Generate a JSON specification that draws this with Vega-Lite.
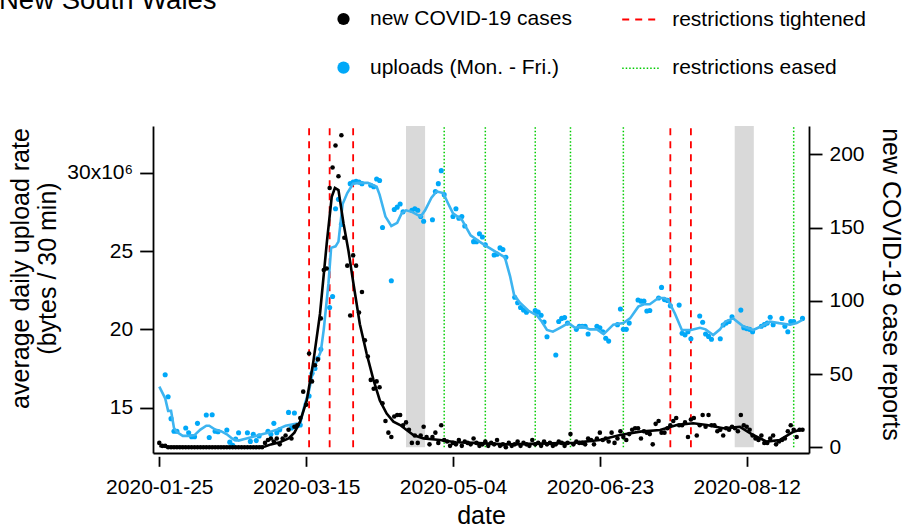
{
"$schema": "https://vega.github.io/schema/vega-lite/v6.json",
"width": 656, "height": 327,
"autosize": {"type": "none"},
"padding": {"left": 153, "top": 126, "right": 95, "bottom": 74},
"background": "white",
"title": {"text": "New South Wales", "anchor": "start", "frame": "group", "orient": "top", "fontSize": 27.5, "fontWeight": "normal", "font": "Liberation Sans", "color": "black", "baseline": "alphabetic", "offset": 0, "dx": -154, "dy": 36},
"config": {
  "font": "Liberation Sans",
  "view": {"stroke": null},
  "axis": {"labelFont": "Liberation Sans", "titleFont": "Liberation Sans", "titleFontWeight": "normal", "domainColor": "black", "tickColor": "black", "labelColor": "black", "titleColor": "black", "domainWidth": 1.8, "tickWidth": 1.8, "grid": false, "labelFontSize": 21, "titleFontSize": 25, "labelFlush": false, "labelOverlap": false, "labelBound": false},
  "legend": {"labelFont": "Liberation Sans", "labelFontSize": 21, "labelColor": "black", "labelLimit": 0, "symbolSize": 150}
},
"datasets": {
"cases": [
{"date":"2020-01-25","cases":3},{"date":"2020-01-26","cases":1},{"date":"2020-01-27","cases":1},{"date":"2020-01-28","cases":0},{"date":"2020-01-29","cases":0},{"date":"2020-01-30","cases":0},{"date":"2020-01-31","cases":0},
{"date":"2020-02-01","cases":0},{"date":"2020-02-02","cases":0},{"date":"2020-02-03","cases":0},{"date":"2020-02-04","cases":0},{"date":"2020-02-05","cases":0},{"date":"2020-02-06","cases":0},{"date":"2020-02-07","cases":0},{"date":"2020-02-08","cases":0},{"date":"2020-02-09","cases":0},{"date":"2020-02-10","cases":0},{"date":"2020-02-11","cases":0},{"date":"2020-02-12","cases":0},{"date":"2020-02-13","cases":0},{"date":"2020-02-14","cases":0},{"date":"2020-02-15","cases":0},{"date":"2020-02-16","cases":0},{"date":"2020-02-17","cases":0},{"date":"2020-02-18","cases":0},{"date":"2020-02-19","cases":0},{"date":"2020-02-20","cases":0},{"date":"2020-02-21","cases":0},{"date":"2020-02-22","cases":0},{"date":"2020-02-23","cases":0},{"date":"2020-02-24","cases":0},{"date":"2020-02-25","cases":0},{"date":"2020-02-26","cases":0},{"date":"2020-02-27","cases":0},{"date":"2020-02-28","cases":0},{"date":"2020-02-29","cases":0},
{"date":"2020-03-01","cases":3},{"date":"2020-03-02","cases":5},{"date":"2020-03-03","cases":6},{"date":"2020-03-04","cases":4},{"date":"2020-03-05","cases":6},{"date":"2020-03-06","cases":2},{"date":"2020-03-07","cases":6},{"date":"2020-03-08","cases":8},{"date":"2020-03-09","cases":12},{"date":"2020-03-10","cases":6},{"date":"2020-03-11","cases":14},{"date":"2020-03-12","cases":15},{"date":"2020-03-13","cases":20},{"date":"2020-03-14","cases":38},{"date":"2020-03-15","cases":29},{"date":"2020-03-16","cases":64},{"date":"2020-03-17","cases":45},{"date":"2020-03-18","cases":56},{"date":"2020-03-19","cases":60},{"date":"2020-03-20","cases":88},{"date":"2020-03-21","cases":121},{"date":"2020-03-22","cases":122},{"date":"2020-03-23","cases":177},{"date":"2020-03-24","cases":191},{"date":"2020-03-25","cases":206},{"date":"2020-03-26","cases":185},{"date":"2020-03-27","cases":213},{"date":"2020-03-28","cases":143},{"date":"2020-03-29","cases":124},{"date":"2020-03-30","cases":90},{"date":"2020-03-31","cases":131},
{"date":"2020-04-01","cases":124},{"date":"2020-04-02","cases":92},{"date":"2020-04-03","cases":106},{"date":"2020-04-04","cases":73},{"date":"2020-04-05","cases":62},{"date":"2020-04-06","cases":46},{"date":"2020-04-07","cases":40},{"date":"2020-04-08","cases":45},{"date":"2020-04-09","cases":41},{"date":"2020-04-10","cases":30},{"date":"2020-04-11","cases":18},{"date":"2020-04-12","cases":10},{"date":"2020-04-13","cases":7},{"date":"2020-04-14","cases":21},{"date":"2020-04-15","cases":22},{"date":"2020-04-16","cases":22},{"date":"2020-04-17","cases":15},{"date":"2020-04-18","cases":17},{"date":"2020-04-19","cases":12},{"date":"2020-04-20","cases":3},{"date":"2020-04-21","cases":8},{"date":"2020-04-22","cases":3},{"date":"2020-04-23","cases":8},{"date":"2020-04-24","cases":14},{"date":"2020-04-25","cases":7},{"date":"2020-04-26","cases":2},{"date":"2020-04-27","cases":7},{"date":"2020-04-28","cases":10},{"date":"2020-04-29","cases":3},{"date":"2020-04-30","cases":15},
{"date":"2020-05-01","cases":5},{"date":"2020-05-02","cases":4},{"date":"2020-05-03","cases":1},{"date":"2020-05-04","cases":3},{"date":"2020-05-05","cases":2},{"date":"2020-05-06","cases":5},{"date":"2020-05-07","cases":1},{"date":"2020-05-08","cases":4},{"date":"2020-05-09","cases":3},{"date":"2020-05-10","cases":2},{"date":"2020-05-11","cases":6},{"date":"2020-05-12","cases":3},{"date":"2020-05-13","cases":1},{"date":"2020-05-14","cases":2},{"date":"2020-05-15","cases":4},{"date":"2020-05-16","cases":1},{"date":"2020-05-17","cases":3},{"date":"2020-05-18","cases":2},{"date":"2020-05-19","cases":5},{"date":"2020-05-20","cases":1},{"date":"2020-05-21","cases":2},{"date":"2020-05-22","cases":0},{"date":"2020-05-23","cases":3},{"date":"2020-05-24","cases":1},{"date":"2020-05-25","cases":2},{"date":"2020-05-26","cases":4},{"date":"2020-05-27","cases":1},{"date":"2020-05-28","cases":3},{"date":"2020-05-29","cases":2},{"date":"2020-05-30","cases":1},{"date":"2020-05-31","cases":5},
{"date":"2020-06-01","cases":2},{"date":"2020-06-02","cases":3},{"date":"2020-06-03","cases":1},{"date":"2020-06-04","cases":4},{"date":"2020-06-05","cases":2},{"date":"2020-06-06","cases":3},{"date":"2020-06-07","cases":1},{"date":"2020-06-08","cases":2},{"date":"2020-06-09","cases":4},{"date":"2020-06-10","cases":3},{"date":"2020-06-11","cases":1},{"date":"2020-06-12","cases":3},{"date":"2020-06-13","cases":9},{"date":"2020-06-14","cases":2},{"date":"2020-06-15","cases":4},{"date":"2020-06-16","cases":3},{"date":"2020-06-17","cases":3},{"date":"2020-06-18","cases":2},{"date":"2020-06-19","cases":6},{"date":"2020-06-20","cases":5},{"date":"2020-06-21","cases":2},{"date":"2020-06-22","cases":6},{"date":"2020-06-23","cases":10},{"date":"2020-06-24","cases":5},{"date":"2020-06-25","cases":6},{"date":"2020-06-26","cases":4},{"date":"2020-06-27","cases":10},{"date":"2020-06-28","cases":3},{"date":"2020-06-29","cases":6},{"date":"2020-06-30","cases":11},
{"date":"2020-07-01","cases":7},{"date":"2020-07-02","cases":5},{"date":"2020-07-03","cases":9},{"date":"2020-07-04","cases":12},{"date":"2020-07-05","cases":13},{"date":"2020-07-06","cases":13},{"date":"2020-07-07","cases":6},{"date":"2020-07-08","cases":11},{"date":"2020-07-09","cases":10},{"date":"2020-07-10","cases":9},{"date":"2020-07-11","cases":2},{"date":"2020-07-12","cases":16},{"date":"2020-07-13","cases":18},{"date":"2020-07-14","cases":10},{"date":"2020-07-15","cases":10},{"date":"2020-07-16","cases":13},{"date":"2020-07-17","cases":15},{"date":"2020-07-18","cases":18},{"date":"2020-07-19","cases":20},{"date":"2020-07-20","cases":15},{"date":"2020-07-21","cases":15},{"date":"2020-07-22","cases":17},{"date":"2020-07-23","cases":7},{"date":"2020-07-24","cases":19},{"date":"2020-07-25","cases":20},{"date":"2020-07-26","cases":8},{"date":"2020-07-27","cases":15},{"date":"2020-07-28","cases":22},{"date":"2020-07-29","cases":14},{"date":"2020-07-30","cases":22},{"date":"2020-07-31","cases":15},
{"date":"2020-08-01","cases":15},{"date":"2020-08-02","cases":11},{"date":"2020-08-03","cases":12},{"date":"2020-08-04","cases":8},{"date":"2020-08-05","cases":13},{"date":"2020-08-06","cases":12},{"date":"2020-08-07","cases":14},{"date":"2020-08-08","cases":13},{"date":"2020-08-09","cases":11},{"date":"2020-08-10","cases":22},{"date":"2020-08-11","cases":15},{"date":"2020-08-12","cases":14},{"date":"2020-08-13","cases":12},{"date":"2020-08-14","cases":8},{"date":"2020-08-15","cases":6},{"date":"2020-08-16","cases":5},{"date":"2020-08-17","cases":8},{"date":"2020-08-18","cases":3},{"date":"2020-08-19","cases":3},{"date":"2020-08-20","cases":6},{"date":"2020-08-21","cases":8},{"date":"2020-08-22","cases":2},{"date":"2020-08-23","cases":4},{"date":"2020-08-24","cases":5},{"date":"2020-08-25","cases":6},{"date":"2020-08-26","cases":11},{"date":"2020-08-27","cases":15},{"date":"2020-08-28","cases":12},{"date":"2020-08-29","cases":7},{"date":"2020-08-30","cases":12},{"date":"2020-08-31","cases":12}
],
"cases_smooth": [
{"date":"2020-01-25","smoothed":1},{"date":"2020-01-28","smoothed":0.3},{"date":"2020-02-04","smoothed":0},{"date":"2020-02-28","smoothed":0},{"date":"2020-03-01","smoothed":0.5},{"date":"2020-03-03","smoothed":2},{"date":"2020-03-06","smoothed":3.5},{"date":"2020-03-09","smoothed":6},{"date":"2020-03-11","smoothed":10},{"date":"2020-03-12T22:00Z","smoothed":17.5},{"date":"2020-03-15T05:00Z","smoothed":32},{"date":"2020-03-17T10:00Z","smoothed":58},{"date":"2020-03-19T17:00Z","smoothed":91},{"date":"2020-03-22","smoothed":139},{"date":"2020-03-23T17:00Z","smoothed":171},{"date":"2020-03-24T19:00Z","smoothed":177},{"date":"2020-03-26","smoothed":175.6},{"date":"2020-03-27T17:00Z","smoothed":153},{"date":"2020-03-29T10:00Z","smoothed":134},{"date":"2020-03-31T02:00Z","smoothed":112},{"date":"2020-04-02T07:00Z","smoothed":84},{"date":"2020-04-04T14:00Z","smoothed":64},{"date":"2020-04-06T22:00Z","smoothed":46},{"date":"2020-04-09T02:00Z","smoothed":32},{"date":"2020-04-11T10:00Z","smoothed":23},{"date":"2020-04-13T17:00Z","smoothed":17.5},{"date":"2020-04-16","smoothed":15.2},{"date":"2020-04-18T05:00Z","smoothed":11.8},{"date":"2020-04-20T12:00Z","smoothed":8.4},{"date":"2020-04-23T22:00Z","smoothed":6.1},{"date":"2020-04-29T14:00Z","smoothed":5},{"date":"2020-05-05","smoothed":3.5},{"date":"2020-05-10T22:00Z","smoothed":3},{"date":"2020-05-22T07:00Z","smoothed":2},{"date":"2020-06-02T14:00Z","smoothed":2.5},{"date":"2020-06-14","smoothed":3},{"date":"2020-06-23","smoothed":5},{"date":"2020-06-29T22:00Z","smoothed":8.4},{"date":"2020-07-06T17:00Z","smoothed":10.7},{"date":"2020-07-13T12:00Z","smoothed":11.8},{"date":"2020-07-19T05:00Z","smoothed":15.2},{"date":"2020-07-24T19:00Z","smoothed":16.4},{"date":"2020-07-29T10:00Z","smoothed":15.2},{"date":"2020-08-04","smoothed":13},{"date":"2020-08-09T17:00Z","smoothed":14},{"date":"2020-08-14T05:00Z","smoothed":8.4},{"date":"2020-08-18T19:00Z","smoothed":3.9},{"date":"2020-08-23T07:00Z","smoothed":5},{"date":"2020-08-27T22:00Z","smoothed":10.7},{"date":"2020-08-31","smoothed":12.3}
],
"uploads": [
{"date":"2020-01-27","upload_1e6":17.1},{"date":"2020-01-28","upload_1e6":15.7},{"date":"2020-01-29","upload_1e6":14.3},{"date":"2020-01-30","upload_1e6":13.5},{"date":"2020-01-31","upload_1e6":13.5},
{"date":"2020-02-03","upload_1e6":13.7},{"date":"2020-02-04","upload_1e6":13.4},{"date":"2020-02-05","upload_1e6":13.15},{"date":"2020-02-06","upload_1e6":13.15},{"date":"2020-02-07","upload_1e6":14.0},
{"date":"2020-02-10","upload_1e6":14.53},{"date":"2020-02-11","upload_1e6":13.1},{"date":"2020-02-12","upload_1e6":14.55},{"date":"2020-02-13","upload_1e6":13.5},{"date":"2020-02-14","upload_1e6":13.47},
{"date":"2020-02-17","upload_1e6":13.58},{"date":"2020-02-18","upload_1e6":12.8},{"date":"2020-02-19","upload_1e6":12.6},{"date":"2020-02-20","upload_1e6":13.0},{"date":"2020-02-21","upload_1e6":13.4},
{"date":"2020-02-24","upload_1e6":13.4},{"date":"2020-02-25","upload_1e6":12.85},{"date":"2020-02-26","upload_1e6":13.3},{"date":"2020-02-27","upload_1e6":12.9},{"date":"2020-02-28","upload_1e6":13.2},
{"date":"2020-03-02","upload_1e6":13.5},{"date":"2020-03-03","upload_1e6":13.3},{"date":"2020-03-04","upload_1e6":14.0},{"date":"2020-03-05","upload_1e6":13.4},{"date":"2020-03-06","upload_1e6":13.6},
{"date":"2020-03-09","upload_1e6":14.7},{"date":"2020-03-10","upload_1e6":13.7},{"date":"2020-03-11","upload_1e6":14.66},{"date":"2020-03-12","upload_1e6":13.85},{"date":"2020-03-13","upload_1e6":13.9},
{"date":"2020-03-16","upload_1e6":15.75},{"date":"2020-03-17","upload_1e6":17.2},{"date":"2020-03-18","upload_1e6":17.5},{"date":"2020-03-19","upload_1e6":18.15},{"date":"2020-03-20","upload_1e6":18.73},
{"date":"2020-03-23","upload_1e6":21.4},{"date":"2020-03-24","upload_1e6":22.1},{"date":"2020-03-25","upload_1e6":27.7},{"date":"2020-03-26","upload_1e6":28.3},{"date":"2020-03-27","upload_1e6":26.7},
{"date":"2020-03-30","upload_1e6":29.3},{"date":"2020-03-31","upload_1e6":29.4},{"date":"2020-04-01","upload_1e6":29.45},{"date":"2020-04-02","upload_1e6":29.4},{"date":"2020-04-03","upload_1e6":29.3},
{"date":"2020-04-06","upload_1e6":29.2},{"date":"2020-04-07","upload_1e6":29.1},{"date":"2020-04-08","upload_1e6":29.6},{"date":"2020-04-09","upload_1e6":29.5},{"date":"2020-04-10","upload_1e6":26.5},
{"date":"2020-04-13","upload_1e6":23.1},{"date":"2020-04-14","upload_1e6":27.65},{"date":"2020-04-15","upload_1e6":27.8},{"date":"2020-04-16","upload_1e6":28.0},{"date":"2020-04-17","upload_1e6":27.5},
{"date":"2020-04-20","upload_1e6":27.6},{"date":"2020-04-21","upload_1e6":27.7},{"date":"2020-04-22","upload_1e6":27.6},{"date":"2020-04-23","upload_1e6":27.2},{"date":"2020-04-24","upload_1e6":26.9},
{"date":"2020-04-27","upload_1e6":27.0},{"date":"2020-04-28","upload_1e6":28.8},{"date":"2020-04-29","upload_1e6":29.3},{"date":"2020-04-30","upload_1e6":30.13},{"date":"2020-05-01","upload_1e6":28.6},
{"date":"2020-05-04","upload_1e6":27.2},{"date":"2020-05-05","upload_1e6":27.7},{"date":"2020-05-06","upload_1e6":27.1},{"date":"2020-05-07","upload_1e6":27.2},{"date":"2020-05-08","upload_1e6":26.6},
{"date":"2020-05-11","upload_1e6":25.6},{"date":"2020-05-12","upload_1e6":25.6},{"date":"2020-05-13","upload_1e6":26.1},{"date":"2020-05-14","upload_1e6":25.9},{"date":"2020-05-15","upload_1e6":25.4},
{"date":"2020-05-18","upload_1e6":24.75},{"date":"2020-05-19","upload_1e6":24.8},{"date":"2020-05-20","upload_1e6":25.2},{"date":"2020-05-21","upload_1e6":25.1},{"date":"2020-05-22","upload_1e6":24.6},
{"date":"2020-05-25","upload_1e6":22.05},{"date":"2020-05-26","upload_1e6":21.7},{"date":"2020-05-27","upload_1e6":21.4},{"date":"2020-05-28","upload_1e6":21.24},{"date":"2020-05-29","upload_1e6":21.1},
{"date":"2020-06-01","upload_1e6":21.2},{"date":"2020-06-02","upload_1e6":21.1},{"date":"2020-06-03","upload_1e6":20.9},{"date":"2020-06-04","upload_1e6":20.47},{"date":"2020-06-05","upload_1e6":19.53},
{"date":"2020-06-08","upload_1e6":18.36},{"date":"2020-06-09","upload_1e6":20.5},{"date":"2020-06-10","upload_1e6":20.7},{"date":"2020-06-11","upload_1e6":20.75},{"date":"2020-06-12","upload_1e6":20.4},
{"date":"2020-06-15","upload_1e6":20.0},{"date":"2020-06-16","upload_1e6":20.2},{"date":"2020-06-17","upload_1e6":20.2},{"date":"2020-06-18","upload_1e6":20.2},{"date":"2020-06-19","upload_1e6":19.7},
{"date":"2020-06-22","upload_1e6":20.2},{"date":"2020-06-23","upload_1e6":20.1},{"date":"2020-06-24","upload_1e6":19.85},{"date":"2020-06-25","upload_1e6":19.43},{"date":"2020-06-26","upload_1e6":19.25},
{"date":"2020-06-29","upload_1e6":20.3},{"date":"2020-06-30","upload_1e6":21.3},{"date":"2020-07-01","upload_1e6":20.0},{"date":"2020-07-02","upload_1e6":20.0},{"date":"2020-07-03","upload_1e6":20.4},
{"date":"2020-07-06","upload_1e6":21.87},{"date":"2020-07-07","upload_1e6":21.8},{"date":"2020-07-08","upload_1e6":21.8},{"date":"2020-07-09","upload_1e6":21.17},{"date":"2020-07-10","upload_1e6":21.2},
{"date":"2020-07-13","upload_1e6":22.0},{"date":"2020-07-14","upload_1e6":22.68},{"date":"2020-07-15","upload_1e6":21.9},{"date":"2020-07-16","upload_1e6":21.85},{"date":"2020-07-17","upload_1e6":21.5},
{"date":"2020-07-20","upload_1e6":21.55},{"date":"2020-07-21","upload_1e6":19.75},{"date":"2020-07-22","upload_1e6":19.65},{"date":"2020-07-23","upload_1e6":19.85},{"date":"2020-07-24","upload_1e6":19.4},
{"date":"2020-07-27","upload_1e6":20.85},{"date":"2020-07-28","upload_1e6":20.45},{"date":"2020-07-29","upload_1e6":19.7},{"date":"2020-07-30","upload_1e6":19.55},{"date":"2020-07-31","upload_1e6":19.37},
{"date":"2020-08-03","upload_1e6":19.4},{"date":"2020-08-04","upload_1e6":20.28},{"date":"2020-08-05","upload_1e6":20.4},{"date":"2020-08-06","upload_1e6":20.5},{"date":"2020-08-07","upload_1e6":20.8},
{"date":"2020-08-10","upload_1e6":21.23},{"date":"2020-08-11","upload_1e6":20.1},{"date":"2020-08-12","upload_1e6":20.05},{"date":"2020-08-13","upload_1e6":20.0},{"date":"2020-08-14","upload_1e6":19.85},
{"date":"2020-08-17","upload_1e6":20.2},{"date":"2020-08-18","upload_1e6":20.3},{"date":"2020-08-19","upload_1e6":20.4},{"date":"2020-08-20","upload_1e6":20.77},{"date":"2020-08-21","upload_1e6":20.3},
{"date":"2020-08-24","upload_1e6":20.7},{"date":"2020-08-25","upload_1e6":20.2},{"date":"2020-08-26","upload_1e6":19.85},{"date":"2020-08-27","upload_1e6":20.5},{"date":"2020-08-28","upload_1e6":20.5},
{"date":"2020-08-31","upload_1e6":20.7}
],
"uploads_smooth": [
{"date":"2020-01-25","smoothed":16.34},{"date":"2020-01-27","smoothed":15.6},{"date":"2020-01-28","smoothed":14.8},{"date":"2020-01-29","smoothed":14.8},{"date":"2020-01-30","smoothed":13.7},{"date":"2020-01-31","smoothed":13.45},{"date":"2020-02-02","smoothed":13.2},{"date":"2020-02-04","smoothed":13.2},{"date":"2020-02-06","smoothed":13.25},{"date":"2020-02-08","smoothed":13.6},{"date":"2020-02-10","smoothed":13.85},{"date":"2020-02-11","smoothed":13.85},{"date":"2020-02-13","smoothed":13.6},{"date":"2020-02-15","smoothed":13.5},{"date":"2020-02-17","smoothed":13.3},{"date":"2020-02-19","smoothed":13.0},{"date":"2020-02-21","smoothed":12.9},{"date":"2020-02-23","smoothed":13.0},{"date":"2020-02-25","smoothed":13.1},{"date":"2020-02-27","smoothed":13.2},{"date":"2020-02-29","smoothed":13.3},{"date":"2020-03-02","smoothed":13.4},{"date":"2020-03-05","smoothed":13.6},{"date":"2020-03-08","smoothed":13.85},{"date":"2020-03-11","smoothed":13.95},{"date":"2020-03-13","smoothed":14.0},{"date":"2020-03-14T12:00Z","smoothed":15.2},{"date":"2020-03-16","smoothed":16.1},{"date":"2020-03-17T10:00Z","smoothed":17.4},{"date":"2020-03-20","smoothed":18.6},{"date":"2020-03-21","smoothed":20.0},{"date":"2020-03-22T14:00Z","smoothed":22.9},{"date":"2020-03-23T12:00Z","smoothed":25.2},{"date":"2020-03-25","smoothed":25.3},{"date":"2020-03-26","smoothed":25.6},{"date":"2020-03-27T10:00Z","smoothed":28.0},{"date":"2020-03-29","smoothed":28.7},{"date":"2020-03-31","smoothed":29.3},{"date":"2020-04-02","smoothed":29.35},{"date":"2020-04-05","smoothed":29.35},{"date":"2020-04-08","smoothed":29.1},{"date":"2020-04-09","smoothed":28.6},{"date":"2020-04-11","smoothed":27.2},{"date":"2020-04-13","smoothed":26.6},{"date":"2020-04-15","smoothed":26.8},{"date":"2020-04-16T12:00Z","smoothed":27.4},{"date":"2020-04-18","smoothed":27.6},{"date":"2020-04-20","smoothed":27.5},{"date":"2020-04-23","smoothed":27.2},{"date":"2020-04-24T12:00Z","smoothed":27.6},{"date":"2020-04-26T16:00Z","smoothed":28.4},{"date":"2020-04-28T10:00Z","smoothed":28.8},{"date":"2020-04-30T16:00Z","smoothed":28.7},{"date":"2020-05-02T10:00Z","smoothed":28.0},{"date":"2020-05-04","smoothed":27.4},{"date":"2020-05-07","smoothed":27.0},{"date":"2020-05-10","smoothed":26.0},{"date":"2020-05-13","smoothed":25.6},{"date":"2020-05-15T12:00Z","smoothed":25.3},{"date":"2020-05-19","smoothed":24.9},{"date":"2020-05-21T16:00Z","smoothed":24.6},{"date":"2020-05-23T10:00Z","smoothed":23.4},{"date":"2020-05-24T19:00Z","smoothed":22.2},{"date":"2020-05-26T19:00Z","smoothed":21.7},{"date":"2020-05-29T14:00Z","smoothed":21.2},{"date":"2020-06-01T12:00Z","smoothed":20.9},{"date":"2020-06-03T05:00Z","smoothed":20.5},{"date":"2020-06-05","smoothed":19.96},{"date":"2020-06-07","smoothed":19.85},{"date":"2020-06-09T10:00Z","smoothed":20.1},{"date":"2020-06-12T07:00Z","smoothed":20.4},{"date":"2020-06-14T14:00Z","smoothed":20.1},{"date":"2020-06-17","smoothed":20.2},{"date":"2020-06-19T14:00Z","smoothed":20.0},{"date":"2020-06-22","smoothed":20.0},{"date":"2020-06-24T07:00Z","smoothed":19.7},{"date":"2020-06-27T14:00Z","smoothed":20.3},{"date":"2020-07-01","smoothed":20.4},{"date":"2020-07-03T07:00Z","smoothed":20.7},{"date":"2020-07-06T02:00Z","smoothed":21.45},{"date":"2020-07-08","smoothed":21.6},{"date":"2020-07-10","smoothed":21.6},{"date":"2020-07-12T22:00Z","smoothed":22.0},{"date":"2020-07-15","smoothed":22.0},{"date":"2020-07-16T07:00Z","smoothed":21.85},{"date":"2020-07-18T14:00Z","smoothed":21.0},{"date":"2020-07-20T22:00Z","smoothed":19.96},{"date":"2020-07-24","smoothed":19.96},{"date":"2020-07-27T02:00Z","smoothed":20.1},{"date":"2020-07-29","smoothed":20.0},{"date":"2020-07-31T14:00Z","smoothed":19.64},{"date":"2020-08-02T22:00Z","smoothed":20.0},{"date":"2020-08-04T17:00Z","smoothed":20.5},{"date":"2020-08-07T10:00Z","smoothed":20.7},{"date":"2020-08-10T19:00Z","smoothed":20.2},{"date":"2020-08-14T05:00Z","smoothed":19.96},{"date":"2020-08-17","smoothed":20.2},{"date":"2020-08-19T22:00Z","smoothed":20.5},{"date":"2020-08-23","smoothed":20.4},{"date":"2020-08-26T19:00Z","smoothed":20.3},{"date":"2020-08-29","smoothed":20.4},{"date":"2020-08-31","smoothed":20.6}
],
"measures": [
{"date":"2020-03-16","type":"restrictions tightened"},{"date":"2020-03-23","type":"restrictions tightened"},{"date":"2020-03-31","type":"restrictions tightened"},{"date":"2020-07-17","type":"restrictions tightened"},{"date":"2020-07-24","type":"restrictions tightened"},
{"date":"2020-05-01","type":"restrictions eased"},{"date":"2020-05-15","type":"restrictions eased"},{"date":"2020-06-01","type":"restrictions eased"},{"date":"2020-06-13","type":"restrictions eased"},{"date":"2020-07-01","type":"restrictions eased"},{"date":"2020-08-28","type":"restrictions eased"}
],
"bands": [
{"start":"2020-04-18T00:00Z","end":"2020-04-24T12:00Z"},{"start":"2020-08-07T22:00Z","end":"2020-08-14T10:00Z"}
]
},
"layer": [
{
 "layer": [
  {"data": {"name": "bands"}, "mark": {"type": "rect", "color": "#D9D9D9"},
   "encoding": {
    "x": {"field": "start", "type": "temporal", "scale": {"type": "utc", "domain": [1579725072000, 1599022944000], "nice": false},
          "axis": {"orient": "bottom", "domain": true, "ticks": false, "labels": false, "title": null, "offset": 0}},
    "x2": {"field": "end"},
    "y": {"datum": 0, "type": "quantitative", "scale": {"domain": [-3.89, 219.32], "nice": false, "zero": false}, "axis": null},
    "y2": {"datum": 219.32}
   }},
  {"data": {"name": "measures"}, "mark": {"type": "rule"},
   "encoding": {
    "x": {"field": "date", "type": "temporal", "scale": {"type": "utc", "domain": [1579725072000, 1599022944000], "nice": false},
          "axis": {"orient": "bottom", "domain": true, "ticks": false, "labels": false, "title": null, "offset": 0}},
    "y": {"datum": 0, "type": "quantitative", "scale": {"domain": [-3.89, 219.32], "nice": false, "zero": false}, "axis": null},
    "y2": {"datum": 219.32},
    "stroke": {"field": "type", "type": "nominal",
      "scale": {"domain": ["restrictions tightened", "restrictions eased"], "range": ["#FF0000", "#00CC00"]},
      "legend": {"orient": "none", "legendX": 468.2, "legendY": -126, "title": null, "symbolType": "stroke", "symbolSize": 1369, "symbolStrokeWidth": 2, "labelOffset": 12, "rowPadding": 18.8, "padding": 0, "direction": "vertical", "labelFontSize": 21, "labelLimit": 0}},
    "strokeDash": {"field": "type", "type": "nominal",
      "scale": {"domain": ["restrictions tightened", "restrictions eased"], "range": [[7, 6], [1.5, 2]]},
      "legend": {"orient": "none", "legendX": 468.2, "legendY": -126, "title": null, "symbolType": "stroke", "symbolSize": 1369, "symbolStrokeWidth": 2, "labelOffset": 12, "rowPadding": 18.8, "padding": 0, "direction": "vertical", "labelFontSize": 21, "labelLimit": 0}},
    "strokeWidth": {"field": "type", "type": "nominal",
      "scale": {"domain": ["restrictions tightened", "restrictions eased"], "range": [1.8, 1.5]},
      "legend": {"orient": "none", "legendX": 468.2, "legendY": -126, "title": null, "symbolType": "stroke", "symbolSize": 1369, "labelOffset": 12, "rowPadding": 18.8, "padding": 0, "direction": "vertical", "labelFontSize": 21, "labelLimit": 0}}
   }}
 ]
},
{
 "layer": [
  {"data": {"name": "uploads"}, "mark": {"type": "circle", "size": 26, "opacity": 1},
   "encoding": {
    "x": {"field": "date", "type": "temporal", "scale": {"type": "utc", "domain": [1579725072000, 1599022944000], "nice": false}, "axis": null},
    "y": {"field": "upload_1e6", "type": "quantitative", "scale": {"domain": [12.108, 32.981], "nice": false, "zero": false},
          "axis": {"orient": "left", "values": [15, 20, 25, 30], "labelExpr": "datum.value == 30 ? '30x10\u2076\u00a0' : datum.label", "tickSize": 13.3, "labelPadding": 7,
                   "title": ["average daily upload rate", "(bytes / 30 min)"], "titleX": -125, "titleY": 142, "titleAngle": -90, "titleAlign": "center", "titleBaseline": "alphabetic", "titleLineHeight": 27}},
    "color": {"datum": "uploads (Mon. - Fri.)", "type": "nominal",
      "scale": {"domain": ["new COVID-19 cases", "uploads (Mon. - Fri.)"], "range": ["#000000", "#00A8F8"]},
      "legend": {"orient": "none", "legendX": 180, "legendY": -117.5, "title": null, "symbolType": "circle", "symbolSize": 150, "symbolStrokeWidth": 0, "labelOffset": 16, "rowPadding": 26.7, "padding": 0, "direction": "vertical", "labelFontSize": 21, "labelLimit": 0,
                 "encode": {"symbols": {"enter": {"size": {"value": 150}}, "update": {"size": {"value": 150}}}}}}
   }},
  {"data": {"name": "uploads_smooth"}, "mark": {"type": "line", "color": "#3DB4F0", "strokeWidth": 2.6},
   "encoding": {
    "x": {"field": "date", "type": "temporal", "scale": {"type": "utc", "domain": [1579725072000, 1599022944000], "nice": false}, "axis": null},
    "y": {"field": "smoothed", "type": "quantitative", "scale": {"domain": [12.108, 32.981], "nice": false, "zero": false}}
   }}
 ]
},
{
 "layer": [
  {"data": {"name": "cases"}, "mark": {"type": "circle", "size": 21, "opacity": 1},
   "encoding": {
    "x": {"field": "date", "type": "temporal", "scale": {"type": "utc", "domain": [1579725072000, 1599022944000], "nice": false},
          "axis": {"orient": "bottom", "offset": 3.3, "domain": false, "values": [1579910400000, 1584230400000, 1588550400000, 1592870400000, 1597190400000], "format": "%Y-%m-%d", "tickSize": 10, "labelPadding": 26.7, "labelBaseline": "alphabetic", "title": "date", "titleBaseline": "alphabetic", "titleY": 66.7}},
    "y": {"field": "cases", "type": "quantitative", "scale": {"domain": [-3.89, 219.32], "nice": false, "zero": false},
          "axis": {"orient": "right", "values": [0, 50, 100, 150, 200], "tickSize": 13, "labelPadding": 7, "title": "new COVID-19 case reports", "titleAngle": 90, "titleX": 73, "titleY": 158, "titleAlign": "center", "titleBaseline": "alphabetic"}},
    "color": {"datum": "new COVID-19 cases", "type": "nominal",
      "scale": {"domain": ["new COVID-19 cases", "uploads (Mon. - Fri.)"], "range": ["#000000", "#00A8F8"]},
      "legend": {"orient": "none", "legendX": 180, "legendY": -117.5, "title": null, "symbolType": "circle", "symbolSize": 150, "symbolStrokeWidth": 0, "labelOffset": 16, "rowPadding": 26.7, "padding": 0, "direction": "vertical", "labelFontSize": 21, "labelLimit": 0,
                 "encode": {"symbols": {"enter": {"size": {"value": 150}}, "update": {"size": {"value": 150}}}}}}
   }},
  {"data": {"name": "cases_smooth"}, "mark": {"type": "line", "color": "#000000", "strokeWidth": 2.6},
   "encoding": {
    "x": {"field": "date", "type": "temporal", "scale": {"type": "utc", "domain": [1579725072000, 1599022944000], "nice": false}},
    "y": {"field": "smoothed", "type": "quantitative", "scale": {"domain": [-3.89, 219.32], "nice": false, "zero": false}}
   }}
 ]
}
],
"resolve": {"scale": {"y": "independent"}, "axis": {"x": "independent", "y": "independent"}}
}
